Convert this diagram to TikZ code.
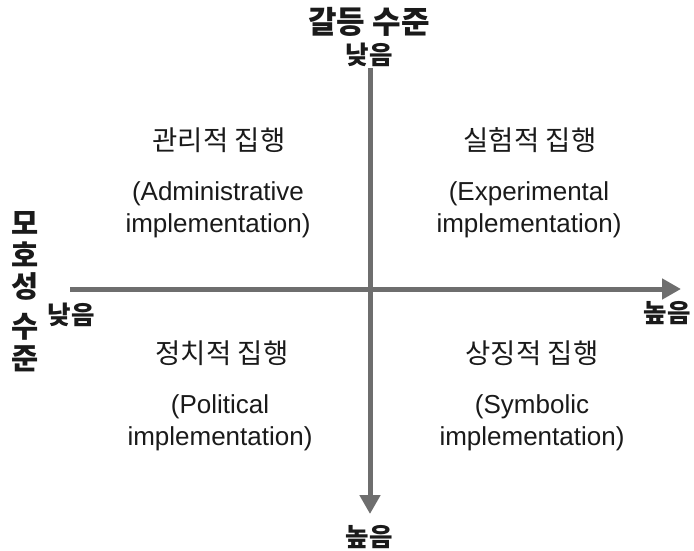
\documentclass[tikz,border=0pt]{standalone}
\usepackage{fontspec}
\setmainfont{Liberation Sans}
\newfontfamily\kr{Noto Sans CJK KR}
\usetikzlibrary{arrows.meta}
\definecolor{axisgray}{HTML}{6E6E6E}
\definecolor{ink}{HTML}{1A1A1A}
\begin{document}
\begin{tikzpicture}[x=1pt,y=-1pt,
  axis/.style={draw=axisgray,line width=5pt,-{Triangle[width=20pt,length=19pt]}},
  title/.style={font=\kr\bfseries\fontsize{31}{34}\selectfont,text=ink,inner sep=0pt},
  sidetitle/.style={font=\kr\bfseries\fontsize{29.5}{32}\selectfont,text=ink,inner sep=0pt},
  endlabel/.style={font=\kr\bfseries\fontsize{25.5}{28}\selectfont,text=ink,inner sep=0pt},
  quadkr/.style={font=\kr\fontsize{27.5}{30}\selectfont,text=ink,inner sep=0pt},
  quaden/.style={font=\fontsize{26}{28}\selectfont,text=ink,inner sep=0pt,anchor=base}]
\useasboundingbox (0,0) rectangle (694,551);
\fill[white] (0,0) rectangle (694,551);

% axes
\coordinate (vtop) at (370,68);
\coordinate (vbot) at (370,514);
\coordinate (hleft) at (70,289);
\coordinate (hright) at (681,289);
\draw[axis] (vtop) -- (vbot);
\draw[axis] (hleft) -- (hright);

% axis titles
\node[title] (ctitle) at (369,22) {갈등 수준};
\node[sidetitle] (atitle1) at (25,223) {모};
\node[sidetitle] (atitle2) at (25,254) {호};
\node[sidetitle] (atitle3) at (25,286) {성};
\node[sidetitle] (atitle4) at (25,327) {수};
\node[sidetitle] (atitle5) at (25,359) {준};

% axis end labels
\node[endlabel] (ctop) at (369,55) {낮음};
\node[endlabel] (cbot) at (369,537) {높음};
\node[endlabel] (aleft) at (71,315) {낮음};
\node[endlabel] (aright) at (667,313) {높음};

% quadrant labels
\node[quadkr] (q1) at (219,140) {관리적 집행};
\node[quaden] (q1a) at (218,200) {(Administrative};
\node[quaden] (q1b) at (218,232) {implementation)};

\node[quadkr] (q2) at (530,140) {실험적 집행};
\node[quaden] (q2a) at (529,200) {(Experimental};
\node[quaden] (q2b) at (529,232) {implementation)};

\node[quadkr] (q3) at (222,353) {정치적 집행};
\node[quaden] (q3a) at (220,413) {(Political};
\node[quaden] (q3b) at (220,445) {implementation)};

\node[quadkr] (q4) at (532,353) {상징적 집행};
\node[quaden] (q4a) at (532,413) {(Symbolic};
\node[quaden] (q4b) at (532,445) {implementation)};
\end{tikzpicture}
\end{document}
